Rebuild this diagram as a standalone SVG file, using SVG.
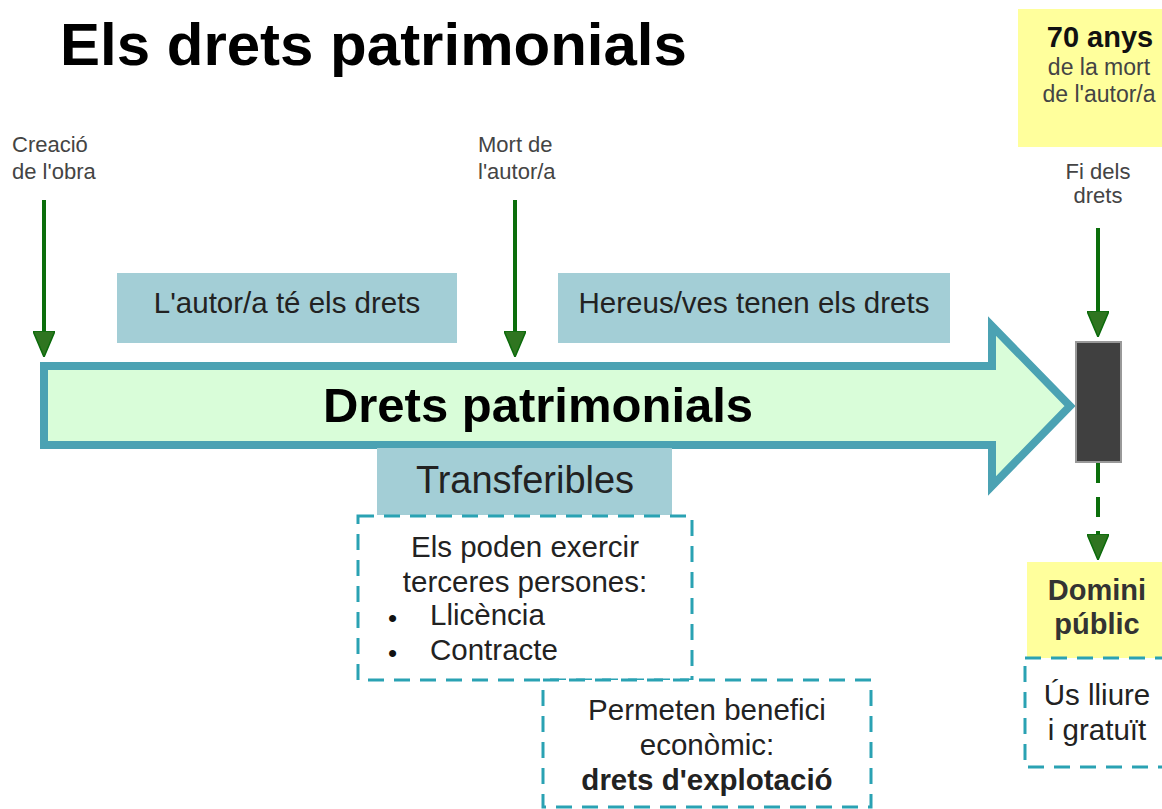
<svg xmlns="http://www.w3.org/2000/svg" width="1162" height="809" viewBox="0 0 1162 809">
<style>
text{font-family:"Liberation Sans",Arial,sans-serif}
.lbl{font-size:22px;fill:#444}
.box{fill:#a3ced6}
.bt{font-size:29.5px;fill:#222}
.dash{fill:#fff;stroke:#2aa2b3;stroke-width:3;stroke-dasharray:16 10}
.yel{fill:#ffff9c}
.ln{stroke:#0b6e0b;stroke-width:4;fill:none}
.c{text-anchor:middle}
.b{font-weight:bold}
.bul{font-size:26px;fill:#111}
</style>
<defs>
<marker id="ah" markerUnits="userSpaceOnUse" viewBox="0 0 26 22" refX="6" refY="11" markerWidth="26" markerHeight="22" orient="auto">
<path d="M0,0 L26,11 L0,22 Z" fill="#2f7520" stroke="#0b6b0b" stroke-width="1.5"/>
</marker>
</defs>
<rect width="1162" height="809" fill="#fff"/>
<g id="title"><text x="60" y="65" font-size="60" font-weight="bold" fill="#000">Els drets patrimonials</text></g>
<g id="creacio"><text class="lbl" x="12" y="152">Creació</text><text class="lbl" x="12" y="179">de l'obra</text></g>
<g id="mort"><text class="lbl" x="478" y="152">Mort de</text><text class="lbl" x="478" y="179">l'autor/a</text></g>
<g id="anys"><rect class="yel" x="1018" y="9" width="150" height="138"/>
<text class="c b" x="1100" y="47" font-size="29" fill="#111">70 anys</text>
<text class="c" x="1099" y="75" font-size="23" fill="#444">de la mort</text>
<text class="c" x="1099" y="102" font-size="23" fill="#444">de l'autor/a</text></g>
<g id="fi"><text class="lbl c" x="1098" y="179">Fi dels</text><text class="lbl c" x="1098" y="203">drets</text></g>
<g id="autor"><rect class="box" x="117" y="273" width="340" height="70"/><text class="bt c" x="287" y="313">L'autor/a té els drets</text></g>
<g id="hereus"><rect class="box" x="558" y="273" width="392" height="70"/><text class="bt c" x="754" y="313">Hereus/ves tenen els drets</text></g>
<g id="drets"><path d="M44,366 H992 V326 L1070,406 L992,486 V445 H44 Z" fill="#d9fdd9" stroke="#4ba2b3" stroke-width="8" stroke-linejoin="miter"/>
<text class="c b" x="538" y="422" font-size="49" fill="#000">Drets patrimonials</text></g>
<g id="fi-bar"><rect x="1076" y="342" width="45" height="120" fill="#404040" stroke="#999" stroke-width="2"/></g>
<g id="transferibles"><rect class="box" x="377" y="448" width="295" height="67"/><text class="c" x="525" y="493" font-size="38" fill="#222">Transferibles</text></g>
<g id="exercir"><rect class="dash" x="358" y="516" width="334" height="164"/>
<text class="bt c" x="525" y="557">Els poden exercir</text>
<text class="bt c" x="525" y="592">terceres persones:</text>
<text class="bul" x="388" y="627">•</text><text class="bt" x="430" y="625">Llicència</text>
<text class="bul" x="388" y="662">•</text><text class="bt" x="430" y="660">Contracte</text></g>
<g id="benefici"><rect class="dash" x="543" y="680" width="328" height="127"/>
<text class="bt c" x="707" y="720">Permeten benefici</text>
<text class="bt c" x="707" y="755">econòmic:</text>
<text class="bt c b" x="707" y="790">drets d'explotació</text></g>
<g id="domini"><rect class="yel" x="1027" y="562" width="140" height="96"/>
<text class="c b" x="1097" y="600" font-size="29" fill="#333">Domini</text>
<text class="c b" x="1097" y="634" font-size="29" fill="#333">públic</text></g>
<g id="us"><rect class="dash" x="1025" y="658" width="150" height="109"/>
<text class="bt c" x="1097" y="705">Ús lliure</text>
<text class="bt c" x="1097" y="740">i gratuït</text></g>
<g id="connectors">
<line class="ln" x1="44" y1="200" x2="44" y2="337" stroke="#5e8c52" marker-end="url(#ah)"/>
<line class="ln" x1="515" y1="200" x2="515" y2="337" marker-end="url(#ah)"/>
<line class="ln" x1="1098" y1="228" x2="1098" y2="317" marker-end="url(#ah)"/>
<line class="ln" x1="1098" y1="463" x2="1098" y2="540" stroke-dasharray="20 14" marker-end="url(#ah)"/>
</g>
</svg>
